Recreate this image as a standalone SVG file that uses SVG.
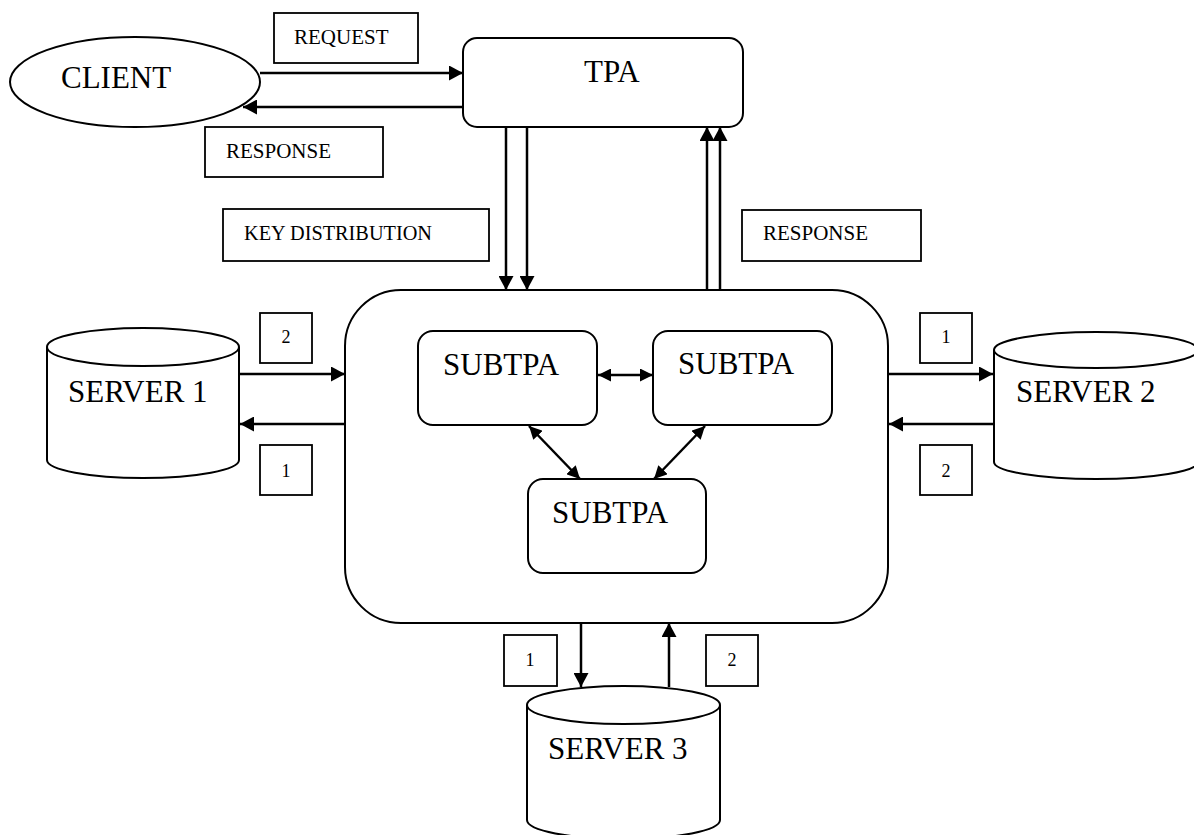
<svg xmlns="http://www.w3.org/2000/svg" width="1194" height="835" viewBox="0 0 1194 835">
<style>
.shape{fill:#fff;stroke:#000;stroke-width:2}
.lbl{fill:#fff;stroke:#000;stroke-width:1.8}
.con{fill:none;stroke:#000;stroke-width:2.5}
.big{font-family:"Liberation Serif","Times New Roman",serif;font-size:31px;fill:#000}
.sm{font-family:"Liberation Serif","Times New Roman",serif;font-size:21px;fill:#000}
.num{font-family:"Liberation Serif","Times New Roman",serif;font-size:18px;fill:#000;text-anchor:middle}
</style>
<defs>
<marker id="ah" viewBox="0 0 14 15" refX="14" refY="7.5" markerWidth="14" markerHeight="15" markerUnits="userSpaceOnUse" orient="auto-start-reverse">
<path d="M0,0 L14,7.5 L0,15 Z" fill="#000"/>
</marker>
<marker id="ahs" viewBox="0 0 13 13" refX="13" refY="6.5" markerWidth="13" markerHeight="13" markerUnits="userSpaceOnUse" orient="auto-start-reverse">
<path d="M0,0 L13,6.5 L0,13 Z" fill="#000"/>
</marker>
</defs>

<g id="client">
<ellipse class="shape" cx="135" cy="82" rx="125" ry="45"/>
<text class="big" x="61" y="88">CLIENT</text>
</g>

<g id="tpa">
<rect class="shape" x="463" y="38" width="280" height="89" rx="14"/>
<text class="big" x="584" y="82">TPA</text>
</g>

<g id="container">
<rect class="shape" x="345" y="290" width="543" height="333" rx="56"/>
</g>

<g id="subtpa1">
<rect class="shape" x="418" y="331" width="179" height="94" rx="15"/>
<text class="big" x="443" y="375">SUBTPA</text>
</g>
<g id="subtpa2">
<rect class="shape" x="653" y="331" width="179" height="94" rx="15"/>
<text class="big" x="678" y="374">SUBTPA</text>
</g>
<g id="subtpa3">
<rect class="shape" x="528" y="479" width="178" height="94" rx="15"/>
<text class="big" x="552" y="523">SUBTPA</text>
</g>

<g id="server1">
<path class="shape" d="M47,347 A96,19 0 0 1 239,347 L239,460 A96,18 0 0 1 47,460 Z"/>
<path class="shape" fill="none" d="M47,347 A96,19 0 0 0 239,347"/>
<text class="big" x="68" y="402">SERVER 1</text>
</g>
<g id="server2">
<path class="shape" d="M994,350 A102,18 0 0 1 1198,350 L1198,462 A102,17 0 0 1 994,462 Z"/>
<path class="shape" fill="none" d="M994,350 A102,18 0 0 0 1198,350"/>
<text class="big" x="1016" y="402">SERVER 2</text>
</g>
<g id="server3">
<path class="shape" d="M527,705 A96.5,19 0 0 1 720,705 L720,820 A96.5,19 0 0 1 527,820 Z"/>
<path class="shape" fill="none" d="M527,705 A96.5,19 0 0 0 720,705"/>
<text class="big" x="548" y="759">SERVER 3</text>
</g>

<g id="labels">
<rect class="lbl" x="274" y="13" width="144" height="50"/>
<text class="sm" x="294" y="44">REQUEST</text>
<rect class="lbl" x="205" y="127" width="178" height="50"/>
<text class="sm" x="226" y="158">RESPONSE</text>
<rect class="lbl" x="223" y="209" width="266" height="52"/>
<text class="sm" x="244" y="240" style="font-size:20.3px">KEY DISTRIBUTION</text>
<rect class="lbl" x="742" y="210" width="179" height="51"/>
<text class="sm" x="763" y="240">RESPONSE</text>
<rect class="lbl" x="260" y="313" width="52" height="50"/>
<text class="num" x="286" y="343">2</text>
<rect class="lbl" x="260" y="445" width="52" height="50"/>
<text class="num" x="286" y="477">1</text>
<rect class="lbl" x="920" y="313" width="52" height="50"/>
<text class="num" x="946" y="343">1</text>
<rect class="lbl" x="920" y="445" width="52" height="50"/>
<text class="num" x="946" y="477">2</text>
<rect class="lbl" x="504" y="635" width="53" height="51"/>
<text class="num" x="530" y="666">1</text>
<rect class="lbl" x="706" y="635" width="52" height="51"/>
<text class="num" x="732" y="666">2</text>
</g>

<g id="connectors">
<line class="con" x1="260" y1="73" x2="463" y2="73" marker-end="url(#ah)"/>
<line class="con" x1="463" y1="107" x2="243" y2="107" marker-end="url(#ah)"/>
<line class="con" x1="506" y1="127" x2="506" y2="290" marker-end="url(#ah)"/>
<line class="con" x1="527" y1="127" x2="527" y2="290" marker-end="url(#ah)"/>
<line class="con" x1="707" y1="290" x2="707" y2="127" marker-end="url(#ah)"/>
<line class="con" x1="720" y1="290" x2="720" y2="127" marker-end="url(#ah)"/>
<line class="con" x1="239" y1="374" x2="345" y2="374" marker-end="url(#ah)"/>
<line class="con" x1="345" y1="424" x2="240" y2="424" marker-end="url(#ah)"/>
<line class="con" x1="888" y1="374" x2="993" y2="374" marker-end="url(#ah)"/>
<line class="con" x1="994" y1="424" x2="889" y2="424" marker-end="url(#ah)"/>
<line class="con" x1="581" y1="623" x2="581" y2="687" marker-end="url(#ah)"/>
<line class="con" x1="669" y1="687" x2="669" y2="623" marker-end="url(#ah)"/>
<line class="con" x1="598" y1="375" x2="653" y2="375" marker-start="url(#ahs)" marker-end="url(#ahs)"/>
<line class="con" x1="529" y1="426" x2="580" y2="479" marker-start="url(#ahs)" marker-end="url(#ahs)"/>
<line class="con" x1="705" y1="426" x2="654" y2="479" marker-start="url(#ahs)" marker-end="url(#ahs)"/>
</g>
</svg>
